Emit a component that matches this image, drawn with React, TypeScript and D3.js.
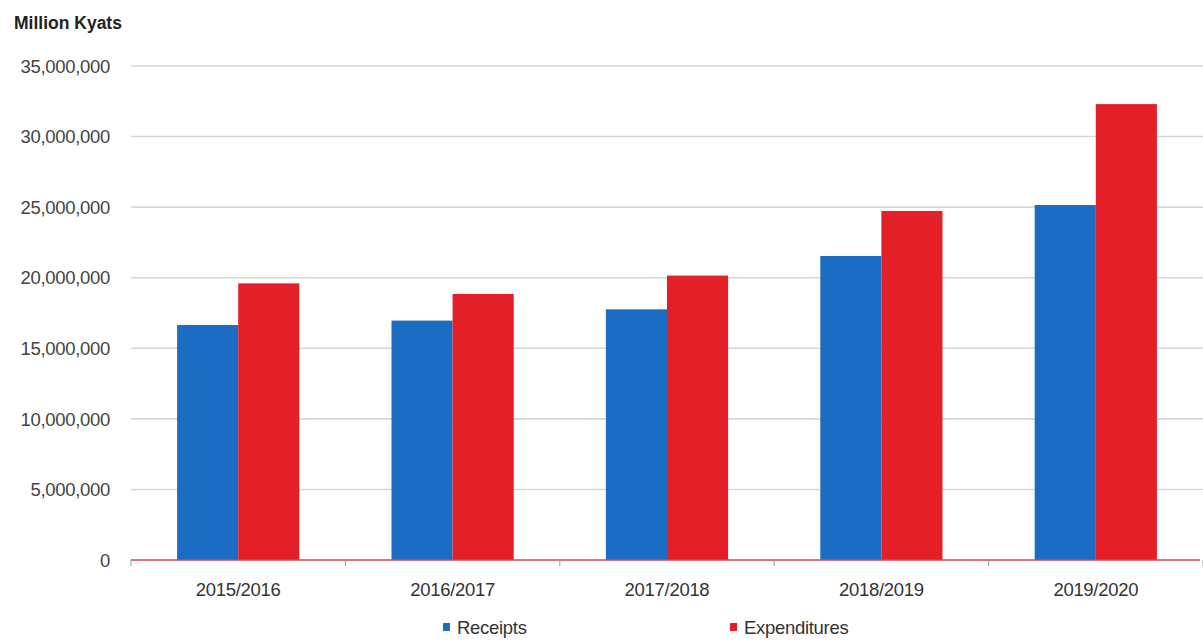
import React from "react";
import * as d3 from "d3";

const categories = ["2015/2016", "2016/2017", "2017/2018", "2018/2019", "2019/2020"];
const seriesNames = ["Receipts", "Expenditures"];
const receipts = [16650000, 16960000, 17760000, 21540000, 25150000];
const expenditures = [19600000, 18850000, 20150000, 24730000, 32300000];
const yTicks = [0, 5000000, 10000000, 15000000, 20000000, 25000000, 30000000, 35000000];
const colors = ["#1b6cc2", "#e31f28"];
const yTitle = "Million Kyats";

const W = 1203;
const H = 642;
const left = 131;
const right = 1203;
const top = 66;
const bottom = 560;
const font = "'Liberation Sans', Arial, sans-serif";

export default function App() {
  const x0 = d3.scaleBand<string>().domain(categories).range([left, right]).paddingInner(0.43).paddingOuter(0.215);
  const x1 = d3.scaleBand<string>().domain(seriesNames).range([0, x0.bandwidth()]).padding(0);
  const y = d3.scaleLinear().domain([0, 35000000]).range([bottom, top]);
  const fmt = d3.format(",");
  const step = x0.step();
  const gap = (step - x0.bandwidth()) / 2;
  const boundaries = categories.map((c) => (x0(c) as number) - gap);
  boundaries.push((x0(categories[categories.length - 1]) as number) + x0.bandwidth() + gap);
  const data = [receipts, expenditures];

  return (
    <div style={{ position: "absolute", left: 0, top: 0, width: W, height: H, background: "#fff" }}>
      <svg width={W} height={H} style={{ display: "block" }}>
        <rect x={0} y={0} width={W} height={H} fill="#fff" />
        <text x={14} y={29} fontFamily={font} fontWeight="bold" fontSize={17.5} fill="#222">
          {yTitle}
        </text>
        {yTicks.map((t) => (
          <g key={t}>
            {t > 0 && (
              <line x1={left} x2={right} y1={y(t)} y2={y(t)} stroke="#d6d6d6" strokeWidth={1.6} />
            )}
            <text
              x={110}
              y={y(t)}
              dy="0.36em"
              textAnchor="end"
              fontFamily={font}
              fontSize={18.5}
              fill="#444"
              style={{ letterSpacing: "-0.3px" }}
            >
              {fmt(t)}
            </text>
          </g>
        ))}
        {categories.map((c, i) =>
          seriesNames.map((s, j) => {
            const v = data[j][i];
            return (
              <rect
                key={c + s}
                x={(x0(c) as number) + (x1(s) as number)}
                y={y(v)}
                width={x1.bandwidth()}
                height={y(0) - y(v)}
                fill={colors[j]}
              />
            );
          })
        )}
        <line x1={left} x2={1200} y1={bottom} y2={bottom} stroke="#d9405a" strokeWidth={1.5} />
        {boundaries.map((b, i) => (
          <line key={i} x1={b} x2={b} y1={bottom} y2={bottom + 6} stroke="#999" strokeWidth={1} />
        ))}
        {categories.map((c) => (
          <text
            key={c}
            x={(x0(c) as number) + x0.bandwidth() / 2}
            y={589}
            dy="0.36em"
            textAnchor="middle"
            fontFamily={font}
            fontSize={18.5}
            fill="#333"
            style={{ letterSpacing: "-0.3px" }}
          >
            {c}
          </text>
        ))}
        {seriesNames.map((s, j) => {
          const lx = j === 0 ? 443 : 730;
          return (
            <g key={s}>
              <rect x={lx} y={623} width={7} height={8} fill={colors[j]} />
              <text
                x={lx + 14}
                y={627}
                dy="0.36em"
                fontFamily={font}
                fontSize={18.5}
                fill="#333"
                style={{ letterSpacing: "-0.3px" }}
              >
                {s}
              </text>
            </g>
          );
        })}
      </svg>
    </div>
  );
}
